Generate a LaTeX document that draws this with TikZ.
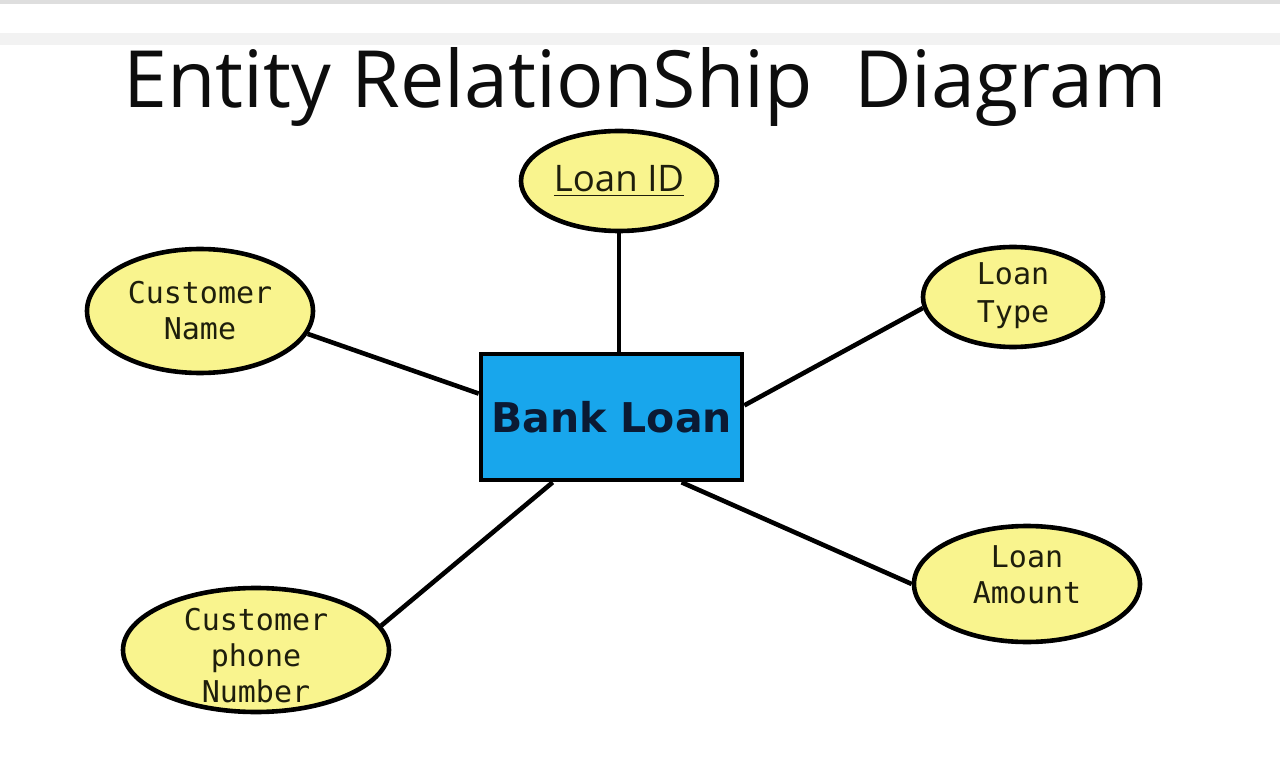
\documentclass[tikz,border=0pt]{standalone}
\usepackage{fontspec}
\setmainfont{Open Sans}
\newfontfamily\attrfont{DejaVu Sans Mono}
\newfontfamily\entfont{DejaVu Sans}
\usetikzlibrary{shapes.geometric}
\definecolor{attrfill}{HTML}{F9F48E}
\definecolor{entfill}{HTML}{18A6EC}
\definecolor{enttext}{HTML}{0B1A33}
\definecolor{attrtext}{HTML}{1E1E0C}
\begin{document}
\begin{tikzpicture}[x=0.5pt,y=-0.5pt,
  attr/.style={ellipse,draw=black,line width=2.3pt,fill=attrfill,inner sep=0pt},
  attrtxt/.style={text=attrtext,align=center,inner sep=0pt,font=\attrfont\fontsize{15}{18}\selectfont},
  ent/.style={rectangle,draw=black,line width=2.3pt,fill=entfill,inner sep=0pt,
    text=enttext,font=\entfont\bfseries\fontsize{20.5}{24}\selectfont},
  link/.style={draw=black,line width=2.3pt}]
\useasboundingbox (0,0) rectangle (1280,770);
\fill[white] (0,0) rectangle (1280,770);
\fill[black!13] (0,0) rectangle (1280,4);
\fill[black!5] (0,33) rectangle (1280,45);
\node[anchor=base,font=\fontsize{39.5}{45}\selectfont,text=black!95] (title) at (645,108) {Entity RelationShip\ \ Diagram};
\node[ent,minimum width=130.5pt,minimum height=63pt] (bl) at (611.5,417) {Bank Loan};
\node[attr,minimum width=98pt,minimum height=50pt,text=attrtext,font=\fontsize{18.3}{22}\selectfont] (lid) at (619,181) {\underline{Loan ID}};
\node[attr,minimum width=113pt,minimum height=62pt,label={[attrtxt,yshift=0pt]center:Customer\\Name}] (cn) at (200,311) {};
\node[attr,minimum width=90pt,minimum height=50pt,label={[attrtxt,font=\attrfont\fontsize{15}{19}\selectfont,yshift=0.5pt]center:Loan\\Type}] (lt) at (1013,297) {};
\node[attr,minimum width=113pt,minimum height=58pt,label={[attrtxt,yshift=4.5pt]center:Loan\\Amount}] (la) at (1027,584) {};
\node[attr,minimum width=133pt,minimum height=62pt,label={[attrtxt,yshift=-3pt]center:Customer\\phone\\Number}] (cp) at (256,650) {};
\draw[link] (lid.south) -- (lid.south |- bl.north);
\draw[link] (cn.-12.5) -- (bl.170.4);
\draw[link] (lt.-173) -- (bl.5.7);
\draw[link] (bl.228.1) -- (cp.11.1);
\draw[link] (bl.-43.5) -- (la.180);
\end{tikzpicture}
\end{document}
